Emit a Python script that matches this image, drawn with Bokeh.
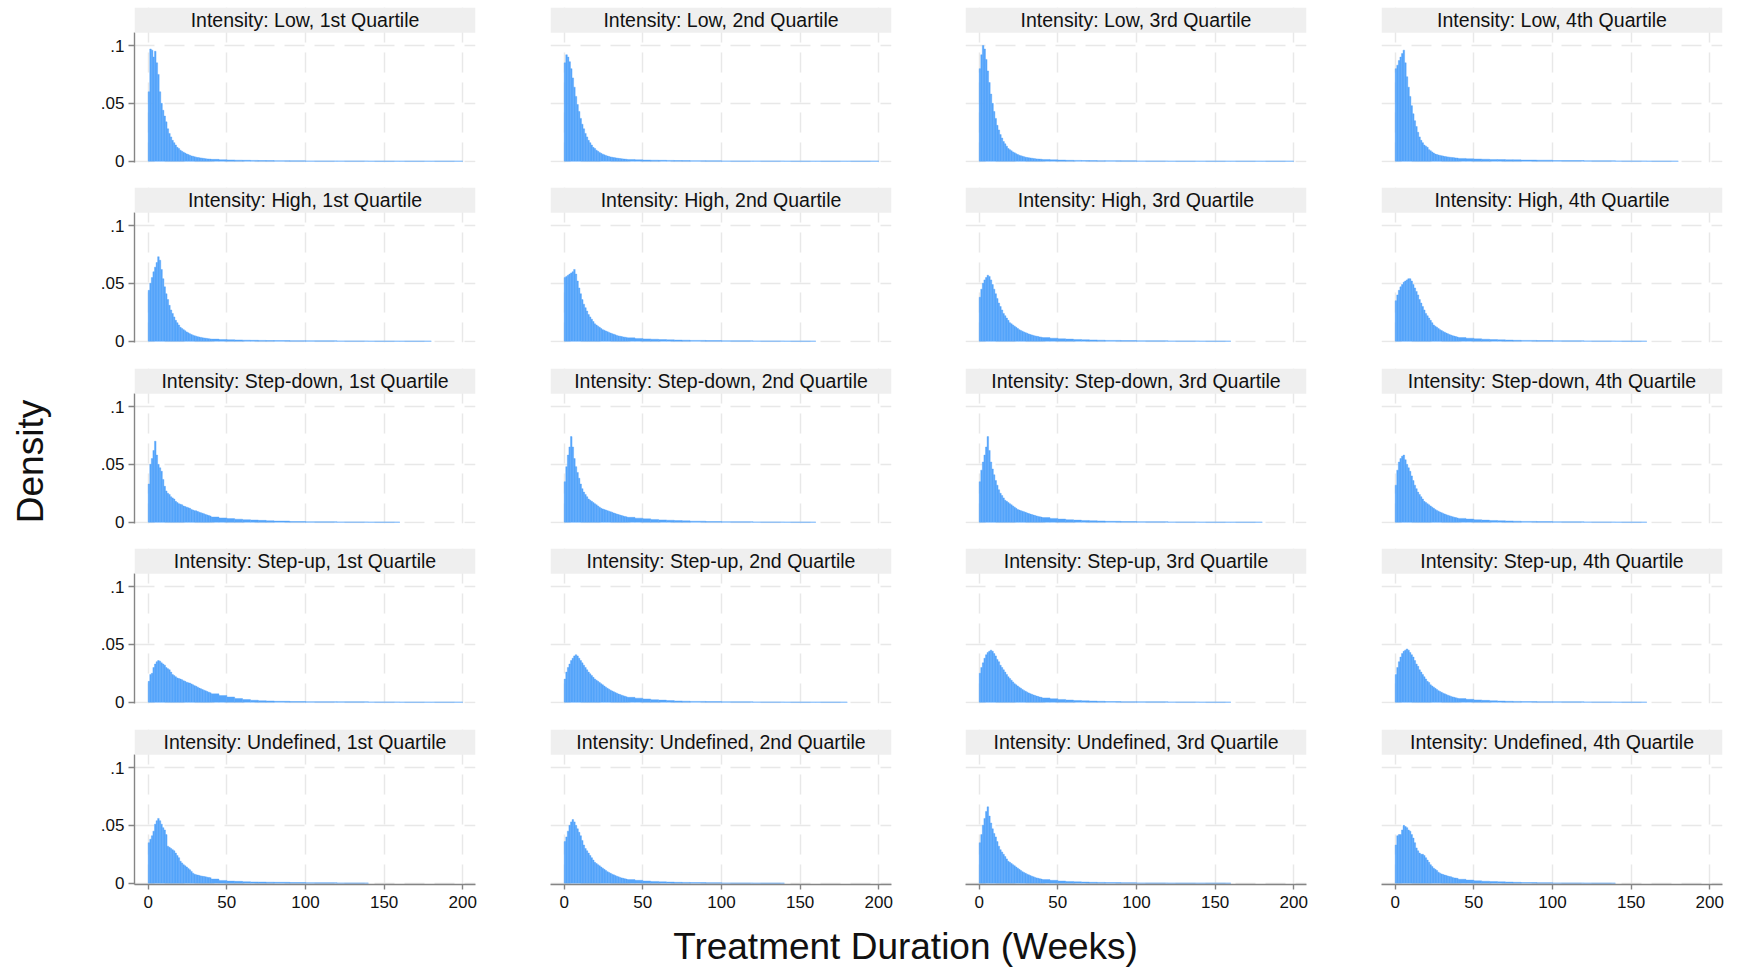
import math
from bokeh.plotting import figure
from bokeh.layouts import row, column
from bokeh.models import Range1d, FixedTicker, BoxAnnotation, Label, Grid
from bokeh.embed import file_html
from bokeh.resources import INLINE

# ---------------- data ----------------
INTENSITIES = ["Low", "High", "Step-down", "Step-up", "Undefined"]
QUARTILES = ["1st", "2nd", "3rd", "4th"]
HEAD_EDGES = list(range(0, 41))   # weekly bins, weeks 0-40
TAIL_EDGES = [40, 45, 50, 55, 60, 65, 70, 75, 80, 90, 100, 120, 140, 160, 180, 200]
X_TICKS = [0, 50, 100, 150, 200]
Y_TICKS = [0, 0.05, 0.1]
Y_LABELS = {0: "0", 0.05: ".05", 0.1: ".1"}
X_TITLE = "Treatment Duration (Weeks)"
Y_TITLE = "Density"

LOW_1_HEAD = [0.060, 0.097, 0.096, 0.090, 0.095, 0.085, 0.075, 0.060, 0.050, 0.044, 0.039, 0.034, 0.028, 0.024, 0.021, 0.018, 0.016, 0.014, 0.012, 0.011, 0.0095, 0.0085, 0.0077, 0.0070, 0.0063, 0.0057, 0.0051, 0.0046, 0.0042, 0.0038, 0.0035, 0.0032, 0.0030, 0.0028, 0.0026, 0.0024, 0.0022, 0.0020, 0.0019, 0.0018]
LOW_1_TAIL = [0.0016, 0.0013, 0.0011, 0.0009, 0.0008, 0.0007, 0.0006, 0.0005, 0.0004, 0.0003, 0.0002, 0.0002, 0.0001, 0.0001, 0.0001]
LOW_2_HEAD = [0.085, 0.092, 0.090, 0.086, 0.080, 0.072, 0.064, 0.056, 0.049, 0.043, 0.037, 0.032, 0.028, 0.024, 0.021, 0.018, 0.016, 0.014, 0.012, 0.011, 0.0095, 0.0085, 0.0076, 0.0068, 0.0061, 0.0055, 0.0050, 0.0045, 0.0041, 0.0037, 0.0034, 0.0031, 0.0029, 0.0027, 0.0025, 0.0023, 0.0021, 0.0020, 0.0018, 0.0017]
LOW_2_TAIL = [0.0015, 0.0012, 0.0010, 0.0009, 0.0008, 0.0007, 0.0006, 0.0005, 0.0004, 0.0003, 0.0002, 0.0002, 0.0001, 0.0001, 0.0001]
LOW_3_HEAD = [0.080, 0.092, 0.100, 0.097, 0.088, 0.078, 0.068, 0.058, 0.050, 0.043, 0.037, 0.031, 0.027, 0.023, 0.020, 0.017, 0.015, 0.013, 0.011, 0.010, 0.0090, 0.0080, 0.0072, 0.0065, 0.0058, 0.0052, 0.0047, 0.0043, 0.0039, 0.0035, 0.0032, 0.0030, 0.0028, 0.0026, 0.0024, 0.0022, 0.0020, 0.0019, 0.0018, 0.0017]
LOW_3_TAIL = [0.0015, 0.0012, 0.0010, 0.0008, 0.0007, 0.0006, 0.0005, 0.0004, 0.0004, 0.0003, 0.0002, 0.0001, 0.0001, 0.0001, 0.0001]
LOW_4_HEAD = [0.080, 0.083, 0.087, 0.090, 0.093, 0.096, 0.085, 0.073, 0.064, 0.056, 0.048, 0.041, 0.035, 0.030, 0.025, 0.021, 0.018, 0.016, 0.014, 0.013, 0.012, 0.010, 0.0090, 0.0080, 0.0070, 0.0062, 0.0058, 0.0054, 0.0050, 0.0047, 0.0044, 0.0041, 0.0039, 0.0037, 0.0035, 0.0033, 0.0031, 0.0030, 0.0028, 0.0027]
LOW_4_TAIL = [0.0024, 0.0021, 0.0019, 0.0017, 0.0015, 0.0014, 0.0013, 0.0012, 0.0010, 0.0009, 0.0006, 0.0003, 0.0002, 0.0001, 0.0]

HIGH_1_HEAD = [0.044, 0.050, 0.055, 0.060, 0.064, 0.068, 0.073, 0.070, 0.062, 0.054, 0.047, 0.041, 0.036, 0.031, 0.027, 0.024, 0.021, 0.018, 0.016, 0.014, 0.012, 0.011, 0.010, 0.0090, 0.0080, 0.0072, 0.0065, 0.0058, 0.0052, 0.0047, 0.0043, 0.0039, 0.0036, 0.0033, 0.0030, 0.0028, 0.0026, 0.0024, 0.0022, 0.0020]
HIGH_1_TAIL = [0.0018, 0.0015, 0.0013, 0.0011, 0.0009, 0.0008, 0.0007, 0.0006, 0.0005, 0.0004, 0.0003, 0.0002, 0.0001, 0.0001, 0.0]
HIGH_2_HEAD = [0.055, 0.056, 0.057, 0.058, 0.059, 0.060, 0.062, 0.058, 0.052, 0.046, 0.041, 0.036, 0.032, 0.029, 0.026, 0.023, 0.021, 0.019, 0.017, 0.015, 0.014, 0.013, 0.012, 0.011, 0.010, 0.0095, 0.0088, 0.0082, 0.0076, 0.0070, 0.0065, 0.0060, 0.0055, 0.0050, 0.0046, 0.0043, 0.0040, 0.0037, 0.0035, 0.0033]
HIGH_2_TAIL = [0.0029, 0.0024, 0.0020, 0.0017, 0.0014, 0.0012, 0.0010, 0.0009, 0.0007, 0.0005, 0.0003, 0.0002, 0.0001, 0.0, 0.0]
HIGH_3_HEAD = [0.038, 0.045, 0.050, 0.053, 0.055, 0.057, 0.056, 0.053, 0.049, 0.045, 0.041, 0.037, 0.033, 0.030, 0.027, 0.024, 0.022, 0.020, 0.018, 0.016, 0.015, 0.014, 0.013, 0.012, 0.011, 0.010, 0.0093, 0.0086, 0.0080, 0.0074, 0.0068, 0.0063, 0.0058, 0.0054, 0.0050, 0.0046, 0.0043, 0.0040, 0.0037, 0.0035]
HIGH_3_TAIL = [0.0031, 0.0026, 0.0021, 0.0018, 0.0015, 0.0013, 0.0011, 0.0009, 0.0007, 0.0005, 0.0003, 0.0002, 0.0001, 0.0, 0.0]
HIGH_4_HEAD = [0.035, 0.040, 0.044, 0.047, 0.049, 0.051, 0.052, 0.053, 0.054, 0.054, 0.052, 0.049, 0.046, 0.043, 0.040, 0.036, 0.033, 0.030, 0.027, 0.024, 0.022, 0.020, 0.018, 0.016, 0.014, 0.013, 0.012, 0.011, 0.010, 0.0092, 0.0084, 0.0077, 0.0070, 0.0064, 0.0058, 0.0053, 0.0048, 0.0044, 0.0040, 0.0037]
HIGH_4_TAIL = [0.0032, 0.0026, 0.0021, 0.0017, 0.0014, 0.0012, 0.0010, 0.0008, 0.0007, 0.0005, 0.0003, 0.0002, 0.0001, 0.0, 0.0]

SD_1_HEAD = [0.033, 0.050, 0.055, 0.062, 0.070, 0.058, 0.050, 0.047, 0.044, 0.037, 0.031, 0.027, 0.025, 0.024, 0.022, 0.021, 0.020, 0.018, 0.017, 0.016, 0.0155, 0.0150, 0.0140, 0.0135, 0.0130, 0.0125, 0.0120, 0.0110, 0.0105, 0.0100, 0.0098, 0.0092, 0.0087, 0.0082, 0.0077, 0.0072, 0.0067, 0.0063, 0.0058, 0.0054]
SD_1_TAIL = [0.0045, 0.0037, 0.0031, 0.0026, 0.0022, 0.0019, 0.0016, 0.0013, 0.0010, 0.0006, 0.0003, 0.0002, 0.0001, 0.0, 0.0]
SD_2_HEAD = [0.035, 0.048, 0.058, 0.065, 0.074, 0.065, 0.055, 0.048, 0.043, 0.038, 0.033, 0.029, 0.026, 0.024, 0.022, 0.020, 0.019, 0.018, 0.017, 0.016, 0.015, 0.014, 0.013, 0.012, 0.0115, 0.0110, 0.0105, 0.0100, 0.0095, 0.0090, 0.0085, 0.0080, 0.0075, 0.0070, 0.0066, 0.0062, 0.0058, 0.0054, 0.0050, 0.0047]
SD_2_TAIL = [0.0042, 0.0035, 0.0029, 0.0024, 0.0020, 0.0017, 0.0014, 0.0012, 0.0009, 0.0006, 0.0004, 0.0002, 0.0001, 0.0, 0.0]
SD_3_HEAD = [0.035, 0.045, 0.052, 0.058, 0.065, 0.074, 0.062, 0.052, 0.046, 0.041, 0.036, 0.032, 0.028, 0.025, 0.023, 0.021, 0.019, 0.018, 0.017, 0.016, 0.015, 0.014, 0.013, 0.012, 0.011, 0.0105, 0.0100, 0.0095, 0.0090, 0.0085, 0.0080, 0.0075, 0.0070, 0.0066, 0.0062, 0.0058, 0.0054, 0.0050, 0.0047, 0.0044]
SD_3_TAIL = [0.0040, 0.0033, 0.0027, 0.0022, 0.0018, 0.0015, 0.0013, 0.0011, 0.0008, 0.0006, 0.0004, 0.0002, 0.0001, 0.0001, 0.0]
SD_4_HEAD = [0.032, 0.045, 0.052, 0.055, 0.057, 0.058, 0.054, 0.050, 0.047, 0.044, 0.040, 0.036, 0.032, 0.029, 0.026, 0.024, 0.022, 0.020, 0.018, 0.017, 0.016, 0.015, 0.014, 0.013, 0.012, 0.011, 0.0102, 0.0095, 0.0088, 0.0082, 0.0076, 0.0070, 0.0065, 0.0060, 0.0055, 0.0051, 0.0047, 0.0043, 0.0040, 0.0037]
SD_4_TAIL = [0.0033, 0.0027, 0.0022, 0.0018, 0.0015, 0.0013, 0.0011, 0.0009, 0.0007, 0.0005, 0.0003, 0.0002, 0.0001, 0.0, 0.0]

SU_1_HEAD = [0.018, 0.024, 0.025, 0.030, 0.033, 0.035, 0.036, 0.0355, 0.034, 0.033, 0.032, 0.030, 0.029, 0.028, 0.026, 0.024, 0.023, 0.022, 0.021, 0.0205, 0.0200, 0.0194, 0.0185, 0.0180, 0.0172, 0.0168, 0.0165, 0.0158, 0.0150, 0.0143, 0.0137, 0.0130, 0.0122, 0.0116, 0.0110, 0.0104, 0.0098, 0.0092, 0.0087, 0.0082]
SU_1_TAIL = [0.0072, 0.0058, 0.0045, 0.0032, 0.0023, 0.0017, 0.0013, 0.0011, 0.0008, 0.0006, 0.0004, 0.0003, 0.0002, 0.0001, 0.0001]
SU_2_HEAD = [0.020, 0.026, 0.030, 0.033, 0.036, 0.038, 0.040, 0.041, 0.040, 0.038, 0.036, 0.034, 0.032, 0.030, 0.028, 0.026, 0.0245, 0.023, 0.0215, 0.020, 0.019, 0.018, 0.017, 0.016, 0.015, 0.014, 0.013, 0.012, 0.0112, 0.0104, 0.0097, 0.0090, 0.0083, 0.0077, 0.0071, 0.0066, 0.0061, 0.0056, 0.0052, 0.0048]
SU_2_TAIL = [0.0042, 0.0035, 0.0028, 0.0022, 0.0018, 0.0014, 0.0011, 0.0009, 0.0007, 0.0005, 0.0003, 0.0002, 0.0001, 0.0001, 0.0]
SU_3_HEAD = [0.025, 0.030, 0.034, 0.038, 0.041, 0.043, 0.044, 0.045, 0.044, 0.042, 0.040, 0.037, 0.035, 0.032, 0.030, 0.028, 0.026, 0.024, 0.022, 0.0205, 0.019, 0.0175, 0.016, 0.015, 0.014, 0.013, 0.012, 0.011, 0.0102, 0.0094, 0.0087, 0.0080, 0.0074, 0.0068, 0.0063, 0.0058, 0.0053, 0.0049, 0.0045, 0.0042]
SU_3_TAIL = [0.0037, 0.0030, 0.0024, 0.0019, 0.0015, 0.0012, 0.0010, 0.0008, 0.0006, 0.0004, 0.0003, 0.0002, 0.0001, 0.0, 0.0]
SU_4_HEAD = [0.024, 0.030, 0.035, 0.039, 0.042, 0.044, 0.045, 0.046, 0.045, 0.043, 0.041, 0.039, 0.036, 0.033, 0.031, 0.028, 0.026, 0.024, 0.022, 0.020, 0.018, 0.017, 0.015, 0.014, 0.013, 0.012, 0.011, 0.010, 0.0092, 0.0085, 0.0078, 0.0072, 0.0066, 0.0060, 0.0055, 0.0050, 0.0046, 0.0042, 0.0038, 0.0035]
SU_4_TAIL = [0.0031, 0.0025, 0.0020, 0.0016, 0.0013, 0.0010, 0.0008, 0.0007, 0.0005, 0.0004, 0.0003, 0.0002, 0.0001, 0.0, 0.0]

UD_1_HEAD = [0.035, 0.038, 0.041, 0.045, 0.051, 0.054, 0.056, 0.054, 0.051, 0.048, 0.046, 0.042, 0.032, 0.031, 0.030, 0.029, 0.028, 0.026, 0.024, 0.022, 0.019, 0.0175, 0.016, 0.015, 0.014, 0.0128, 0.0116, 0.0102, 0.0087, 0.0078, 0.0073, 0.0070, 0.0067, 0.0063, 0.0060, 0.0058, 0.0055, 0.0052, 0.0050, 0.0048]
UD_1_TAIL = [0.0036, 0.0024, 0.0018, 0.0016, 0.0013, 0.0011, 0.0010, 0.0009, 0.0008, 0.0006, 0.0004, 0.0002, 0.0, 0.0, 0.0]
UD_2_HEAD = [0.036, 0.040, 0.045, 0.050, 0.053, 0.055, 0.053, 0.050, 0.047, 0.044, 0.041, 0.037, 0.033, 0.030, 0.028, 0.026, 0.024, 0.022, 0.020, 0.018, 0.017, 0.016, 0.015, 0.014, 0.013, 0.012, 0.011, 0.010, 0.0092, 0.0085, 0.0078, 0.0072, 0.0066, 0.0060, 0.0055, 0.0050, 0.0046, 0.0042, 0.0039, 0.0036]
UD_2_TAIL = [0.0031, 0.0025, 0.0019, 0.0015, 0.0012, 0.0010, 0.0008, 0.0007, 0.0005, 0.0004, 0.0002, 0.0001, 0.0, 0.0, 0.0]
UD_3_HEAD = [0.035, 0.042, 0.050, 0.056, 0.062, 0.066, 0.058, 0.052, 0.047, 0.043, 0.040, 0.036, 0.032, 0.029, 0.027, 0.025, 0.023, 0.021, 0.019, 0.018, 0.017, 0.016, 0.015, 0.014, 0.013, 0.012, 0.011, 0.010, 0.0092, 0.0085, 0.0078, 0.0072, 0.0066, 0.0060, 0.0055, 0.0050, 0.0046, 0.0042, 0.0039, 0.0036]
UD_3_TAIL = [0.0031, 0.0025, 0.0019, 0.0015, 0.0012, 0.0010, 0.0008, 0.0007, 0.0005, 0.0004, 0.0002, 0.0001, 0.0001, 0.0, 0.0]
UD_4_HEAD = [0.033, 0.041, 0.042, 0.042, 0.046, 0.050, 0.049, 0.048, 0.046, 0.045, 0.042, 0.039, 0.035, 0.0305, 0.028, 0.026, 0.025, 0.025, 0.024, 0.022, 0.020, 0.018, 0.016, 0.0145, 0.013, 0.012, 0.011, 0.0095, 0.0087, 0.0080, 0.0075, 0.0070, 0.0067, 0.0062, 0.0058, 0.0055, 0.0050, 0.0046, 0.0044, 0.0042]
UD_4_TAIL = [0.0034, 0.0027, 0.0021, 0.0017, 0.0014, 0.0012, 0.0010, 0.0008, 0.0006, 0.0004, 0.0002, 0.0001, 0.0, 0.0, 0.0]

HEADS = [
    [LOW_1_HEAD, LOW_2_HEAD, LOW_3_HEAD, LOW_4_HEAD],
    [HIGH_1_HEAD, HIGH_2_HEAD, HIGH_3_HEAD, HIGH_4_HEAD],
    [SD_1_HEAD, SD_2_HEAD, SD_3_HEAD, SD_4_HEAD],
    [SU_1_HEAD, SU_2_HEAD, SU_3_HEAD, SU_4_HEAD],
    [UD_1_HEAD, UD_2_HEAD, UD_3_HEAD, UD_4_HEAD],
]
TAILS = [
    [LOW_1_TAIL, LOW_2_TAIL, LOW_3_TAIL, LOW_4_TAIL],
    [HIGH_1_TAIL, HIGH_2_TAIL, HIGH_3_TAIL, HIGH_4_TAIL],
    [SD_1_TAIL, SD_2_TAIL, SD_3_TAIL, SD_4_TAIL],
    [SU_1_TAIL, SU_2_TAIL, SU_3_TAIL, SU_4_TAIL],
    [UD_1_TAIL, UD_2_TAIL, UD_3_TAIL, UD_4_TAIL],
]

# ---------------- style / layout ----------------
FONT = "Liberation Sans"
BAR = "#55a5fb"
GRID_COLOR = "#e8e8e8"
AXIS_COLOR = "#858585"
STRIP = "#efefef"

FRAME_W = 341
FRAME_H = 155
PX_PER_X = 1.5729
PX_PER_Y = 1157.0
X_START = -8.7
X_END = X_START + FRAME_W / PX_PER_X
Y_START = -1.3 / PX_PER_Y
Y_END = Y_START + FRAME_H / PX_PER_Y
PLOT_TOP = 0.111
COL_LEFT = [76, 38, 37, 38]
COL_RIGHT = [37, 37, 37, 10]
ROW_TOP = [7, 0, 0, 0, 0]
ROW_BOTTOM = [25, 26, 25, 26, 34]
LEFT_W = 58
BOTTOM_H = 49


def strip_grids(p):
    p.center = [r for r in p.center if not isinstance(r, Grid)]


def panel(r, c):
    p = figure(frame_width=FRAME_W, frame_height=FRAME_H,
               min_border_left=COL_LEFT[c], min_border_right=COL_RIGHT[c],
               min_border_top=ROW_TOP[r], min_border_bottom=ROW_BOTTOM[r],
               x_range=Range1d(X_START, X_END), y_range=Range1d(Y_START, Y_END),
               x_axis_location="below" if r == 4 else None,
               y_axis_location="left" if c == 0 else None,
               toolbar_location=None, output_backend="svg",
               outline_line_color=None, background_fill_color="white",
               border_fill_color="white")
    strip_grids(p)
    for dim, ticks in ((0, X_TICKS), (1, Y_TICKS)):
        p.add_layout(Grid(dimension=dim, ticker=FixedTicker(ticks=ticks),
                          grid_line_color=GRID_COLOR, grid_line_width=1.5,
                          grid_line_dash="20 10"))

    head, tail = HEADS[r][c], TAILS[r][c]
    lefts = HEAD_EDGES[:-1] + TAIL_EDGES[:-1]
    rights = HEAD_EDGES[1:] + TAIL_EDGES[1:]
    tops = head + tail
    keep = [i for i, t in enumerate(tops) if t > 0]
    p.quad(left=[lefts[i] for i in keep], right=[rights[i] for i in keep],
           top=[tops[i] for i in keep], bottom=0,
           fill_color=BAR, line_color=BAR, line_width=0.4)

    p.add_layout(BoxAnnotation(left=X_START, right=X_END, bottom=PLOT_TOP, top=Y_END,
                               fill_color=STRIP, fill_alpha=1.0, line_color=None))
    p.add_layout(Label(x=(X_START + X_END) / 2, y=(PLOT_TOP + Y_END) / 2,
                       text=f"Intensity: {INTENSITIES[r]}, {QUARTILES[c]} Quartile",
                       text_align="center", text_baseline="middle",
                       text_font=FONT, text_font_size="19.5px", text_color="#111111"))

    for ax in p.yaxis:
        ax.ticker = FixedTicker(ticks=Y_TICKS)
        ax.major_label_overrides = Y_LABELS
        ax.bounds = (Y_START, PLOT_TOP)
        ax.axis_line_color = AXIS_COLOR
        ax.axis_line_width = 1.4
        ax.major_tick_line_color = AXIS_COLOR
        ax.major_tick_line_width = 1.4
        ax.major_tick_in = 0
        ax.major_tick_out = 6
        ax.minor_tick_line_color = None
        ax.major_label_standoff = 4
        ax.major_label_text_font = FONT
        ax.major_label_text_font_size = "17px"
        ax.major_label_text_color = "#111111"
    for ax in p.xaxis:
        ax.ticker = FixedTicker(ticks=X_TICKS)
        ax.axis_line_color = AXIS_COLOR
        ax.axis_line_width = 1.4
        ax.major_tick_line_color = AXIS_COLOR
        ax.major_tick_line_width = 1.4
        ax.major_tick_in = 0
        ax.major_tick_out = 5
        ax.minor_tick_line_color = None
        ax.major_label_standoff = 6
        ax.major_label_text_font = FONT
        ax.major_label_text_font_size = "17px"
        ax.major_label_text_color = "#111111"
    return p


rows = [row(*[panel(r, c) for c in range(4)], spacing=0) for r in range(5)]
grid_col = column(*rows, spacing=0)
grid_h = sum(ROW_TOP) + 5 * FRAME_H + sum(ROW_BOTTOM)
grid_w = sum(COL_LEFT) + 4 * FRAME_W + sum(COL_RIGHT)

left = figure(frame_width=LEFT_W, frame_height=grid_h, min_border=0,
              x_range=Range1d(0, LEFT_W), y_range=Range1d(0, grid_h),
              x_axis_location=None, y_axis_location=None,
              toolbar_location=None, output_backend="svg", outline_line_color=None)
strip_grids(left)
left.add_layout(Label(x=30, y=grid_h - 461, text=Y_TITLE, angle=math.pi / 2,
                      text_align="center", text_baseline="middle",
                      text_font=FONT, text_font_size="37px", text_color="#111111"))

bottom = figure(frame_width=LEFT_W + grid_w, frame_height=BOTTOM_H, min_border=0,
                x_range=Range1d(0, LEFT_W + grid_w), y_range=Range1d(0, BOTTOM_H),
                x_axis_location=None, y_axis_location=None,
                toolbar_location=None, output_backend="svg", outline_line_color=None)
strip_grids(bottom)
bottom.add_layout(Label(x=905, y=21, text=X_TITLE,
                        text_align="center", text_baseline="middle",
                        text_font=FONT, text_font_size="37px", text_color="#111111"))

layout = column(row(left, grid_col, spacing=0), bottom, spacing=0)

open("out.html", "w").write(file_html(layout, INLINE))
